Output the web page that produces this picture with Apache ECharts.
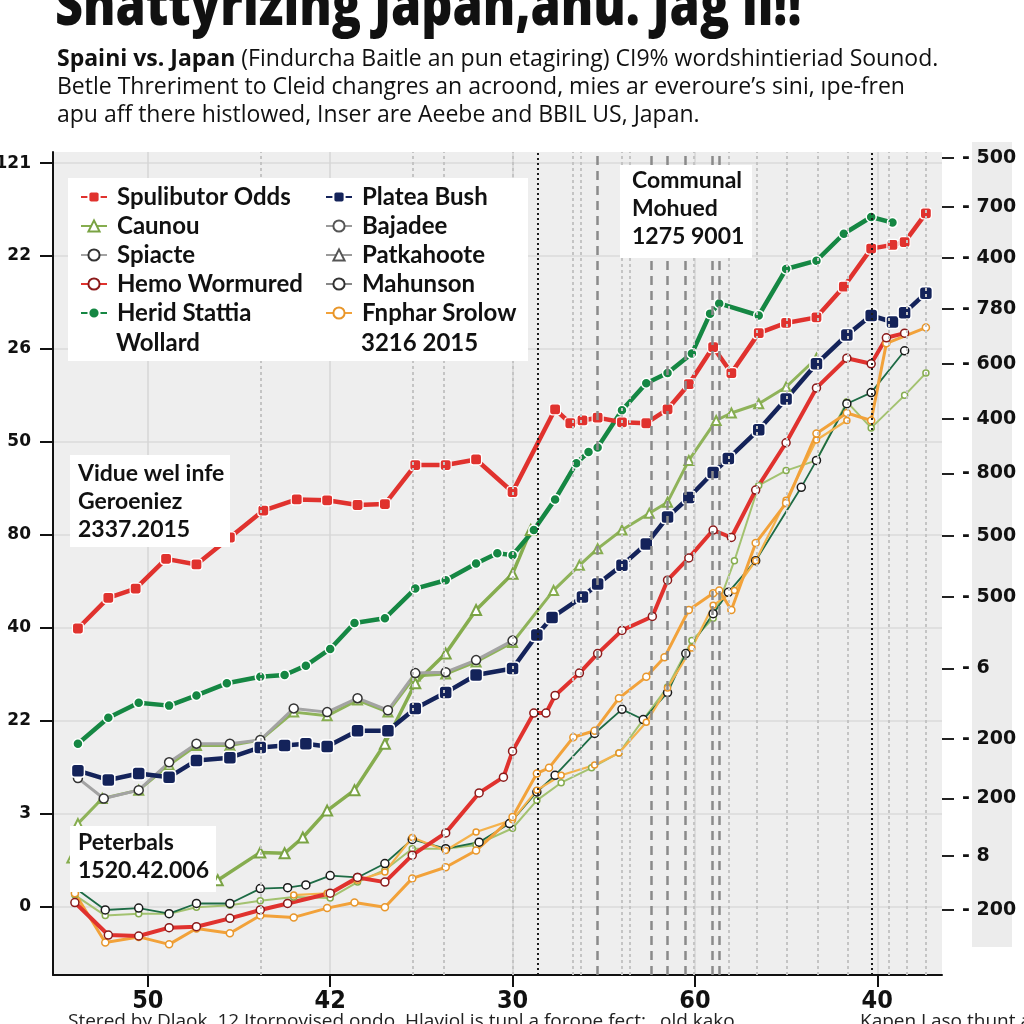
<!DOCTYPE html>
<html><head><meta charset="utf-8">
<script src="https://cdn.jsdelivr.net/npm/echarts@6/dist/echarts.min.js"></script>
<style>html,body{margin:0;padding:0;background:#fff}#c{width:1024px;height:1024px}</style>
</head><body><div id="c"></div>
<script>
// ---- tick labels ----
const leftTickValues = [0,1,2,3,4,5,6,7,8];
const leftTickLabels = ['0','3','22','40','80','50','26','22','121'];
const rightTickValues = [8.06,7.53,6.98,6.43,5.84,5.25,4.66,3.99,3.33,2.56,1.80,1.16,0.54,-0.04];
const rightTickLabels = ['500','700','400','780','600','400','800','500','500','6','200','200','8','200'];
const xTickValues = [6,12,18,24,30];
const xTickLabels = ['50','42','30','60','40'];

// ---- vertical reference lines (x values) ----
const blackDotted = [18.82, 29.83];
const darkDashed = [20.79, 22.57, 23.09, 23.69, 24.57, 24.80];
const lightDotted = [9.71,14.71,15.73,18.0,19.97,20.23,21.58,21.84,23.95,25.13,26.02,27.01,28.03,29.04,30.39,30.98,31.58];

// ---- series values [x, y] ----
const spulibutorOdds = [[3.7,2.99],[4.7,3.32],[5.6,3.42],[6.6,3.74],[7.6,3.68],[8.7,3.97],[9.8,4.26],[10.9,4.38],[11.9,4.37],[12.9,4.32],[13.8,4.33],[14.8,4.75],[15.8,4.75],[16.8,4.81],[18.0,4.46],[19.4,5.35],[19.9,5.20],[20.3,5.23],[20.8,5.26],[21.6,5.21],[22.4,5.20],[23.1,5.35],[23.8,5.62],[24.6,6.02],[25.2,5.74],[26.1,6.17],[27.0,6.28],[28.0,6.34],[28.9,6.67],[29.8,7.08],[30.5,7.12],[30.9,7.15],[31.6,7.46]];
const heridStattia = [[3.7,1.75],[4.7,2.03],[5.7,2.19],[6.7,2.16],[7.6,2.27],[8.6,2.40],[9.7,2.47],[10.5,2.49],[11.2,2.59],[12.0,2.77],[12.8,3.05],[13.8,3.10],[14.8,3.42],[15.8,3.51],[16.8,3.69],[17.5,3.80],[18.0,3.78],[18.7,4.05],[19.4,4.38],[20.1,4.77],[20.5,4.89],[20.8,4.94],[21.6,5.34],[22.4,5.63],[23.1,5.74],[23.9,5.95],[24.5,6.38],[24.8,6.49],[26.1,6.36],[27.0,6.86],[28.0,6.95],[28.9,7.24],[29.8,7.42],[30.5,7.36]];
const plateaBush = [[3.7,1.46],[4.7,1.36],[5.7,1.43],[6.7,1.39],[7.6,1.57],[8.7,1.60],[9.7,1.71],[10.5,1.73],[11.2,1.75],[11.9,1.72],[12.9,1.89],[13.9,1.89],[14.8,2.13],[15.8,2.30],[16.8,2.49],[18.0,2.56],[18.8,2.92],[19.3,3.11],[20.3,3.33],[20.8,3.47],[21.6,3.67],[22.4,3.90],[23.1,4.19],[23.8,4.40],[24.6,4.67],[25.1,4.82],[26.1,5.13],[27.0,5.46],[28.0,5.84],[29.0,6.15],[29.8,6.36],[30.5,6.29],[30.9,6.39],[31.6,6.60]];
const caunou = [[3.7,0.47],[5.8,0.37],[7.4,0.28],[8.3,0.28],[9.7,0.58],[10.5,0.57],[11.1,0.74],[11.9,1.03],[12.8,1.25],[13.8,1.75],[14.8,2.40],[15.8,2.72],[16.8,3.19],[18.0,3.58],[18.6,4.05]];
const patkahoote = [[3.5,0.52],[3.7,0.89],[4.5,1.16],[5.7,1.25],[6.7,1.52],[7.6,1.73],[8.7,1.73],[9.7,1.79],[10.8,2.09],[11.9,2.05],[12.9,2.22],[13.9,2.09],[14.8,2.48],[15.8,2.50],[16.8,2.63],[18.0,2.84],[19.35,3.40],[20.2,3.67],[20.8,3.85],[21.6,4.05],[22.5,4.23],[23.1,4.35],[23.8,4.80],[24.7,5.23],[25.2,5.31],[26.1,5.41],[27.0,5.59],[28.0,5.90]];
const spiacte = [[3.7,1.38],[4.55,1.16],[5.7,1.25],[6.7,1.55],[7.6,1.75],[8.7,1.75],[9.7,1.79],[10.8,2.13],[11.9,2.09],[12.9,2.24],[13.9,2.11],[14.8,2.51],[15.8,2.52],[16.8,2.65],[18.0,2.86]];
const hemoWormured = [[3.6,0.04],[4.7,-0.31],[5.7,-0.32],[6.7,-0.23],[7.6,-0.22],[8.7,-0.13],[9.7,-0.04],[10.6,0.03],[12.0,0.14],[12.9,0.31],[13.8,0.26],[14.7,0.55],[15.8,0.79],[16.9,1.22],[17.7,1.39],[18.0,1.67],[18.7,2.08],[19.1,2.08],[19.4,2.27],[20.2,2.51],[20.8,2.72],[21.6,2.97],[22.6,3.12],[23.1,3.51],[23.8,3.75],[24.6,4.05],[25.2,3.97],[26.0,4.48],[27.0,4.99],[28.0,5.58],[29.0,5.90],[29.8,5.84],[30.3,6.12],[30.9,6.17]];
const mahunson = [[3.6,0.20],[4.6,-0.04],[5.7,-0.02],[6.7,-0.08],[7.6,0.03],[8.7,0.03],[9.7,0.19],[10.6,0.20],[11.2,0.23],[12.0,0.33],[12.9,0.31],[13.8,0.46],[14.7,0.72],[15.8,0.62],[16.9,0.69],[17.9,0.89],[18.8,1.23],[19.4,1.41],[20.7,1.86],[21.6,2.12],[22.3,2.01],[23.1,2.30],[23.7,2.72],[24.6,3.15],[25.1,3.38],[26.0,3.72],[27.5,4.51],[28.0,4.80],[29.0,5.41],[29.8,5.53],[30.9,5.98]];
const bajadee = [[3.6,0.12],[4.6,-0.10],[5.7,-0.08],[6.7,-0.08],[7.6,-0.01],[8.7,0.01],[9.7,0.06],[10.8,0.10],[12.0,0.09],[12.9,0.26],[13.8,0.39],[14.7,0.62],[15.8,0.62],[16.8,0.66],[18.0,0.84],[18.8,1.14],[19.6,1.33],[20.6,1.49],[21.5,1.65],[22.3,2.01],[23.1,2.36],[23.9,2.86],[24.6,3.10],[25.3,3.72],[26.1,4.53],[27.0,4.69],[28.0,4.80],[29.0,5.43],[29.8,5.15],[30.9,5.50],[31.6,5.74]];
const fnpharSrolow = [[3.6,0.14],[4.6,-0.39],[5.7,-0.33],[6.7,-0.41],[7.6,-0.24],[8.7,-0.29],[9.7,-0.10],[10.8,-0.12],[11.9,-0.02],[12.8,0.04],[13.8,-0.01],[14.7,0.30],[15.8,0.42],[16.8,0.60],[18.0,0.96],[18.8,1.43],[19.2,1.49],[20.0,1.82],[20.7,1.89],[21.5,2.24],[22.4,2.47],[23.0,2.68],[23.8,3.19],[24.6,3.37],[24.8,3.40],[25.2,3.19],[26.0,3.91],[27.0,4.34],[28.0,5.09],[29.0,5.31],[29.8,5.23],[30.3,6.06],[31.6,6.23]];
const fnpharSrolow2 = [[10.8,0.12],[11.9,0.14],[12.9,0.28],[13.8,0.37],[14.7,0.74],[15.8,0.60],[16.8,0.80],[18.0,0.93],[18.8,1.25],[19.6,1.41],[20.7,1.52],[21.5,1.65],[22.4,1.98],[23.1,2.35],[23.9,2.78],[24.6,3.24],[25.3,3.40],[26.0,3.72],[27.0,4.37],[28.0,5.02],[29.0,5.23]];

const chart = echarts.init(document.getElementById('c'), null, {renderer:'canvas'});
const LBL = 'Lato, "Open Sans", sans-serif';
const fmtIdx = (vals, labels) => v => { for (let i=0;i<vals.length;i++) if (Math.abs(vals[i]-v)<1e-6) return labels[i]; return ''; };
function hollow(color, border, bw){ return {color: color, borderColor: border, borderWidth: bw}; }
function ln(name, data, color, width, symbol, size, item, z){
  return {name, type:'line', data, z: z||2, symbol, symbolSize: size, showSymbol:true,
    lineStyle:{color, width}, itemStyle:item, emphasis:{disabled:true}};
}
const refMarks = [];
blackDotted.forEach(v=>refMarks.push({xAxis:v, lineStyle:{color:'#1a1a1a', width:2, type:[2,3]}}));
darkDashed.forEach(v=>refMarks.push({xAxis:v, lineStyle:{color:'#8a8a8a', width:2.5, type:[9,6]}}));
lightDotted.forEach(v=>refMarks.push({xAxis:v, lineStyle:{color:'#c4c4c4', width:2, type:[3,3]}}));

const legendText = {fontFamily:LBL, fontWeight:'bold', fontSize:24, color:'#111', lineHeight:24, padding:[0,0,0,5]};
const option = {
  animation:false,
  backgroundColor:'#ffffff',
  grid:{left:53, right:82, top:152, bottom:49, show:true, backgroundColor:'#eeeeee', borderWidth:0, containLabel:false, outerBoundsMode:'none'},
  xAxis:{type:'value', min:2.88, max:32.13,
    axisLine:{show:true, onZero:false, lineStyle:{color:'#111', width:2}},
    axisTick:{show:true, length:12, customValues:xTickValues, lineStyle:{color:'#111', width:2}},
    axisLabel:{customValues:xTickValues, formatter:fmtIdx(xTickValues,xTickLabels), margin:14,
      fontFamily:'"Liberation Sans Narrow","DejaVu Sans Condensed","Open Sans",sans-serif', fontWeight:'bold', fontSize:25, color:'#111'},
    splitLine:{show:true, lineStyle:{color:'#d6d6d6', width:1.5}}},
  yAxis:[{type:'value', min:-0.74, max:8.12, position:'left',
    axisLine:{show:true, lineStyle:{color:'#111', width:2}},
    axisTick:{show:true, length:13, customValues:leftTickValues, lineStyle:{color:'#111', width:2}},
    axisLabel:{customValues:leftTickValues, formatter:fmtIdx(leftTickValues,leftTickLabels), margin:22,
      fontFamily:'"DejaVu Sans",sans-serif', fontWeight:'bold', fontSize:17, color:'#111'},
    splitLine:{show:true, lineStyle:{color:'#dadada', width:1.5}}},
   {type:'value', min:-0.74, max:8.12, position:'right',
    axisLine:{show:false},
    axisTick:{show:true, length:12, customValues:rightTickValues, lineStyle:{color:'#222', width:2}},
    axisLabel:{customValues:rightTickValues, formatter:v=>'- '+fmtIdx(rightTickValues,rightTickLabels)(v), margin:20,
      fontFamily:'"DejaVu Sans",sans-serif', fontWeight:'bold', fontSize:19, color:'#111'},
    splitLine:{show:false}}],
  legend:[
    {left:80, top:185, padding:0, orient:'vertical', itemGap:5, itemWidth:26, itemHeight:14, z:60, textStyle:legendText,
     data:['Spulibutor Odds','Caunou','Spiacte','Hemo Wormured','Herid Stattia']},
    {left:325, top:185, padding:0, orient:'vertical', itemGap:5, itemWidth:26, itemHeight:14, z:60, textStyle:legendText,
     data:['Platea Bush',
       {name:'Bajadee', lineStyle:{color:'#9a9a9a'}, itemStyle:{color:'#fff', borderColor:'#555'}},
       {name:'Patkahoote', lineStyle:{color:'#9a9a9a'}, itemStyle:{color:'#fff', borderColor:'#555'}},
       {name:'Mahunson', lineStyle:{color:'#888'}, itemStyle:{color:'#fff', borderColor:'#333'}},
       'Fnphar Srolow']}
  ],
  series:[
    {name:'refs', type:'line', data:[], z:1, markLine:{silent:true, symbol:['none','none'], label:{show:false}, data:refMarks}},
    ln('Bajadee', bajadee, '#a3c270', 2, 'circle', 6, hollow('#fff','#86ad4f',1.5)),
    ln('Mahunson', mahunson, '#1d6b45', 1.8, 'circle', 8, hollow('#fff','#1a1a1a',1.5)),
    ln('Fnphar Srolow 2', fnpharSrolow2, '#f4b24c', 2.2, 'circle', 6, hollow('#fff','#e8962a',1.5)),
    ln('Fnphar Srolow', fnpharSrolow, '#f2a23a', 3, 'circle', 7, hollow('#fff','#e8962a',1.5)),
    ln('Patkahoote', patkahoote, '#8fb35a', 3, 'triangle', 9, hollow('#fff','#86ad4f',2)),
    ln('Caunou', caunou, '#86ad4f', 3.5, 'triangle', 10, hollow('#fff','#7aa344',2)),
    ln('Spiacte', spiacte, '#a3a3a3', 3, 'circle', 9, hollow('#fff','#333',1.5)),
    ln('Hemo Wormured', hemoWormured, '#e0322e', 4, 'circle', 8, hollow('#fff','#8b1a1a',1.5)),
    ln('Herid Stattia', heridStattia, '#158743', 4.5, 'circle', 10, hollow('#158743','#ffffff',1.5)),
    ln('Platea Bush', plateaBush, '#14235a', 4.5, 'roundRect', 13, hollow('#14235a','#ffffff',1.5)),
    ln('Spulibutor Odds', spulibutorOdds, '#e0322e', 4.5, 'roundRect', 11, hollow('#e0322e','#ffffff',1.2))
  ],
  graphic:[
    {type:'rect', z:-1, shape:{x:972, y:142, width:40, height:805}, style:{fill:'#ececec'}},
    {type:'text', x:55, y:-22, scaleX:0.81, z:100, style:{text:'Shattyrizing Japan,anu. Jag ll!!', font:'800 60px "Open Sans", sans-serif', fill:'#111', textVerticalAlign:'top'}},
    {type:'text', x:57, y:48, z:100, style:{text:'{b|Spaini vs. Japan} (Findurcha Baitle an pun etagiring) CI9% wordshintieriad Sounod.', font:'23px "Open Sans", sans-serif', fill:'#111', textVerticalAlign:'top',
      rich:{b:{fontWeight:'bold', fontSize:23, fontFamily:'"Open Sans", sans-serif', fill:'#111'}}}},
    {type:'text', x:57, y:76, z:100, style:{text:'Betle Threriment to Cleid changres an acroond, mies ar everoure’s sini, ıpe-fren', font:'23px "Open Sans", sans-serif', fill:'#111', textVerticalAlign:'top'}},
    {type:'text', x:57, y:104, z:100, style:{text:'apu aff there histlowed, Inser are Aeebe and BBIL US, Japan.', font:'23px "Open Sans", sans-serif', fill:'#111', textVerticalAlign:'top'}},
    {type:'rect', z:50, shape:{x:68, y:178, width:460, height:183}, style:{fill:'#ffffff'}},
    {type:'text', x:116, y:331, z:61, style:{text:'Wollard', font:'bold 24px Lato, sans-serif', fill:'#111', textVerticalAlign:'top'}},
    {type:'text', x:361, y:331, z:61, style:{text:'3216 2015', font:'bold 24px Lato, sans-serif', fill:'#111', textVerticalAlign:'top'}},
    {type:'rect', z:50, shape:{x:620, y:165, width:132, height:93}, style:{fill:'#ffffff'}},
    {type:'text', x:632, y:167, z:61, style:{text:'Communal\nMohued\n1275 9001', font:'bold 23px Lato, sans-serif', lineHeight:28, fill:'#111', textVerticalAlign:'top'}},
    {type:'rect', z:50, shape:{x:70, y:455, width:160, height:92}, style:{fill:'#ffffff'}},
    {type:'text', x:78, y:460, z:61, style:{text:'Vidue wel infe\nGeroeniez\n2337.2015', font:'bold 23px Lato, sans-serif', lineHeight:28, fill:'#111', textVerticalAlign:'top'}},
    {type:'rect', z:50, shape:{x:70, y:826, width:146, height:66}, style:{fill:'#ffffff'}},
    {type:'text', x:78, y:829, z:61, style:{text:'Peterbals\n1520.42.006', font:'bold 23px Lato, sans-serif', lineHeight:28, fill:'#111', textVerticalAlign:'top'}},
    {type:'text', x:68, y:1012, z:100, style:{text:'Stered by Dlaok. 12 Itorpovised ondo. Hlaviol is tupl a forope fect:', font:'19px "Open Sans", sans-serif', fill:'#222', textVerticalAlign:'top'}},
    {type:'text', x:660, y:1012, z:100, style:{text:'old kako', font:'19px "Open Sans", sans-serif', fill:'#222', textVerticalAlign:'top'}},
    {type:'text', x:860, y:1012, z:100, style:{text:'Kapen Laso thunt aßtbk', font:'19px "Open Sans", sans-serif', fill:'#222', textVerticalAlign:'top'}}
  ]
};
chart.setOption(option);
</script></body></html>
